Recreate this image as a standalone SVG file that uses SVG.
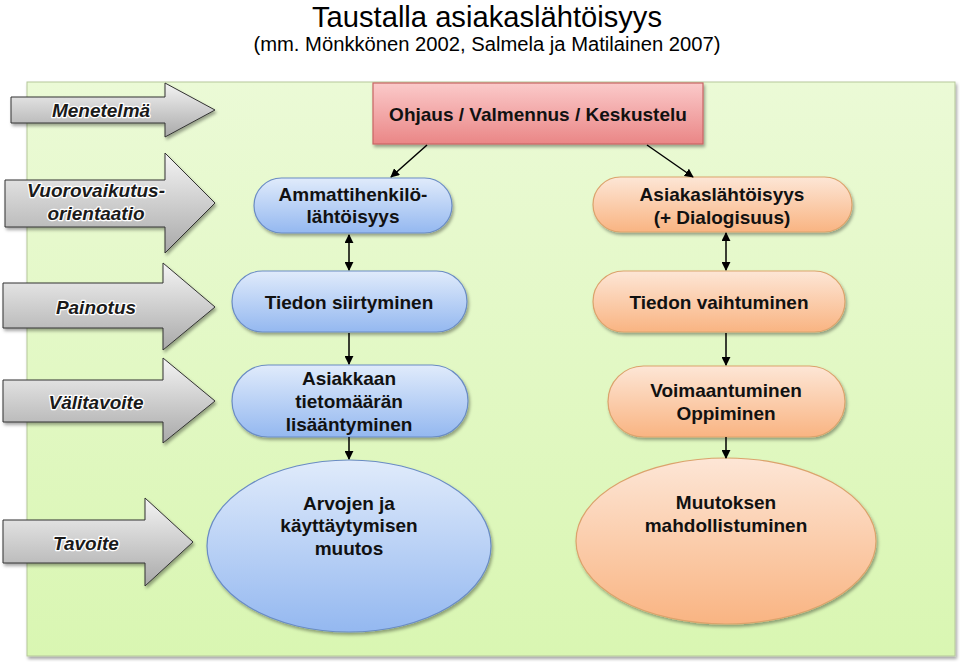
<svg xmlns="http://www.w3.org/2000/svg" width="960" height="662" viewBox="0 0 960 662">
<defs>
<linearGradient id="gGray" x1="0" y1="0" x2="0" y2="1"><stop offset="0" stop-color="#f4f4f4"/><stop offset="1" stop-color="#a9a9a9"/></linearGradient>
<linearGradient id="gGreen" x1="0" y1="0" x2="0" y2="1"><stop offset="0" stop-color="#ebfad6"/><stop offset="1" stop-color="#d9f6b2"/></linearGradient>
<linearGradient id="gRed" x1="0" y1="0" x2="0" y2="1"><stop offset="0" stop-color="#fbcaca"/><stop offset="1" stop-color="#ea8686"/></linearGradient>
<linearGradient id="gBlue" x1="0" y1="0" x2="0" y2="1"><stop offset="0" stop-color="#e0ebfb"/><stop offset="1" stop-color="#94b8f0"/></linearGradient>
<linearGradient id="gOrange" x1="0" y1="0" x2="0" y2="1"><stop offset="0" stop-color="#fde6d6"/><stop offset="1" stop-color="#f9b482"/></linearGradient>
<filter id="sh" x="-10%" y="-10%" width="130%" height="140%"><feDropShadow dx="1.5" dy="2.5" stdDeviation="1.8" flood-color="#000" flood-opacity="0.35"/></filter>
<marker id="ah" viewBox="0 0 10 10" refX="9" refY="5" markerWidth="9" markerHeight="9" markerUnits="userSpaceOnUse" orient="auto-start-reverse"><path d="M0,0 L10,5 L0,10 z" fill="#000"/></marker>
<style>
.title{font-family:"Liberation Sans",Arial,sans-serif;fill:#000;text-anchor:middle}
.lab{font-family:"Liberation Sans",Arial,sans-serif;font-style:italic;font-weight:bold;font-size:19px;fill:#1a1a1a;text-anchor:middle;stroke:#fff;stroke-width:2.5px;paint-order:stroke;stroke-linejoin:round}
.arr{fill:url(#gGray);stroke:#333;stroke-width:1}
.nt{font-family:"Liberation Sans",Arial,sans-serif;font-weight:bold;font-size:19px;fill:#111;text-anchor:middle}
.blue{fill:url(#gBlue);stroke:#6a8cc4;stroke-width:1.2}
.orange{fill:url(#gOrange);stroke:#dba36c;stroke-width:1.2}
.con{stroke:#000;stroke-width:1.5;fill:none}
</style>
</defs>
<rect width="960" height="662" fill="#fff"/>
<text class="title" x="487" y="27" font-size="29" textLength="350" lengthAdjust="spacingAndGlyphs">Taustalla asiakaslähtöisyys</text>
<text class="title" x="487" y="51" font-size="20" textLength="467" lengthAdjust="spacingAndGlyphs">(mm. Mönkkönen 2002, Salmela ja Matilainen 2007)</text>
<g id="background"><rect x="27" y="82" width="928" height="574" fill="url(#gGreen)" stroke="#b5c79a" stroke-width="1" filter="url(#sh)"/></g>
<g id="row-menetelma"><path class="arr" d="M11,97 H165 V83 L215,110 L165,137 V123 H11 Z" filter="url(#sh)"/><text class="lab" x="101" y="117">Menetelmä</text></g>
<g id="row-vuorovaikutus"><path class="arr" d="M5,180 H165 V153 L215,203 L165,253 V227 H5 Z" filter="url(#sh)"/><text class="lab" x="96" y="197">Vuorovaikutus-</text><text class="lab" x="96" y="220">orientaatio</text></g>
<g id="row-painotus"><path class="arr" d="M3,283 H163 V263 L215,307 L163,350 V328 H3 Z" filter="url(#sh)"/><text class="lab" x="96" y="314">Painotus</text></g>
<g id="row-valitavoite"><path class="arr" d="M3,380 H163 V358 L215,401 L163,443 V422 H3 Z" filter="url(#sh)"/><text class="lab" x="96" y="409">Välitavoite</text></g>
<g id="row-tavoite"><path class="arr" d="M3,520 H145 V498 L193,542 L145,586 V563 H3 Z" filter="url(#sh)"/><text class="lab" x="86" y="550">Tavoite</text></g>
<g id="n-ohjaus"><rect x="373" y="83" width="330" height="61" fill="url(#gRed)" stroke="#c86464" stroke-width="1.2" filter="url(#sh)"/><text class="nt" x="538" y="121">Ohjaus / Valmennus / Keskustelu</text></g>
<g id="n-ammatti"><rect class="blue" x="254" y="178" width="198" height="55" rx="27.5" filter="url(#sh)"/><text class="nt" x="353" y="201">Ammattihenkilö-</text><text class="nt" x="353" y="223">lähtöisyys</text></g>
<g id="n-asiakas"><rect class="orange" x="593" y="177" width="259" height="55" rx="27.5" filter="url(#sh)"/><text class="nt" x="722" y="201">Asiakaslähtöisyys</text><text class="nt" x="722" y="224">(+ Dialogisuus)</text></g>
<g id="n-siirtyminen"><rect class="blue" x="232" y="271" width="235" height="61" rx="30.5" filter="url(#sh)"/><text class="nt" x="349" y="309">Tiedon siirtyminen</text></g>
<g id="n-vaihtuminen"><rect class="orange" x="593" y="271" width="252" height="61" rx="30.5" filter="url(#sh)"/><text class="nt" x="719" y="309">Tiedon vaihtuminen</text></g>
<g id="n-tietomaara"><rect class="blue" x="232" y="365" width="236" height="72" rx="36" filter="url(#sh)"/><text class="nt" x="349" y="385">Asiakkaan</text><text class="nt" x="349" y="408">tietomäärän</text><text class="nt" x="349" y="431">lisääntyminen</text></g>
<g id="n-voimaantuminen"><rect class="orange" x="608" y="366" width="237" height="71" rx="35.5" filter="url(#sh)"/><text class="nt" x="726" y="397">Voimaantuminen</text><text class="nt" x="726" y="420">Oppiminen</text></g>
<g id="n-arvojen"><ellipse class="blue" cx="349" cy="546" rx="142" ry="86" filter="url(#sh)"/><text class="nt" x="349" y="510">Arvojen ja</text><text class="nt" x="349" y="532">käyttäytymisen</text><text class="nt" x="349" y="555">muutos</text></g>
<g id="n-muutoksen"><ellipse class="orange" cx="726" cy="541" rx="150" ry="83" filter="url(#sh)"/><text class="nt" x="726" y="509">Muutoksen</text><text class="nt" x="726" y="532">mahdollistuminen</text></g>
<g id="connectors">
<line class="con" x1="427" y1="145" x2="391" y2="177" marker-end="url(#ah)"/>
<line class="con" x1="647" y1="145" x2="693" y2="177" marker-end="url(#ah)"/>
<line class="con" x1="349" y1="235" x2="349" y2="270" marker-start="url(#ah)" marker-end="url(#ah)"/>
<line class="con" x1="726" y1="233" x2="726" y2="270" marker-start="url(#ah)" marker-end="url(#ah)"/>
<line class="con" x1="349" y1="333" x2="349" y2="364" marker-end="url(#ah)"/>
<line class="con" x1="726" y1="333" x2="726" y2="365" marker-end="url(#ah)"/>
<line class="con" x1="349" y1="437" x2="349" y2="459" marker-end="url(#ah)"/>
<line class="con" x1="726" y1="437" x2="726" y2="458" marker-end="url(#ah)"/>
</g>
</svg>
